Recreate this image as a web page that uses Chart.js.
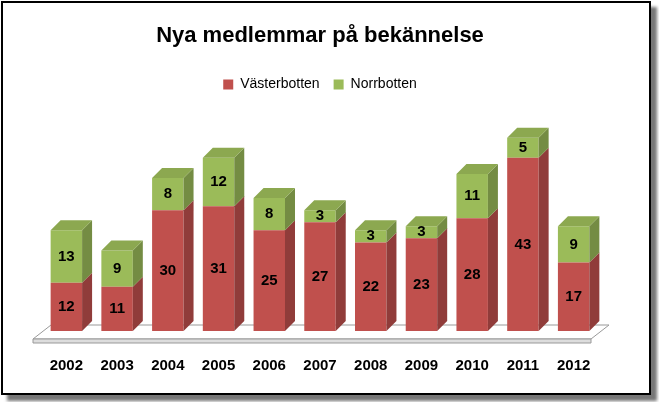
<!DOCTYPE html>
<html><head><meta charset="utf-8">
<script src="https://cdn.jsdelivr.net/npm/chart.js@4/dist/chart.umd.min.js"></script>
<style>
html,body{margin:0;padding:0;background:#fff;}
#wrap{position:absolute;left:1px;top:1px;width:646px;height:390px;border:2px solid #000;background:#fff;box-shadow:6px 6px 3px #777;}
canvas{display:block;}
</style></head><body>
<div id="wrap"><canvas id="c" width="646" height="390"></canvas></div>
<script>
const years=["2002","2003","2004","2005","2006","2007","2008","2009","2010","2011","2012"];
const vasterbotten=[12,11,30,31,25,27,22,23,28,43,17];
const norrbotten=[13,9,8,12,8,3,3,3,11,5,9];
const DX=10,DY=10;
function shade(hex,f){const n=parseInt(hex.slice(1),16);let r=(n>>16)&255,g=(n>>8)&255,b=n&255;return `rgb(${Math.round(r*f)},${Math.round(g*f)},${Math.round(b*f)})`;}
const depth={id:'depth',
beforeDatasetsDraw(ch){const ctx=ch.ctx,a=ch.chartArea,y0=ch.scales.y.getPixelForValue(0);
 ctx.save();ctx.fillStyle='#fff';ctx.strokeStyle='#999';ctx.lineWidth=1;
 ctx.beginPath();ctx.moveTo(a.left-8,y0+8);ctx.lineTo(a.right-8,y0+8);ctx.lineTo(a.right+DX,y0-DY+4);ctx.lineTo(a.left+DX,y0-DY+4);ctx.closePath();ctx.fill();ctx.stroke();
 ctx.beginPath();ctx.moveTo(a.left-8,y0+8);ctx.lineTo(a.right-8,y0+8);ctx.lineTo(a.right-8,y0+12);ctx.lineTo(a.left-8,y0+12);ctx.closePath();ctx.fillStyle='#ddd';ctx.fill();ctx.stroke();
 ctx.restore();},
afterDatasetsDraw(ch){const ctx=ch.ctx;ctx.save();
 ch.data.datasets.forEach((ds,di)=>{const m=ch.getDatasetMeta(di);const col=ds.backgroundColor;
  m.data.forEach((b,i)=>{const l=b.x-b.width/2,r=b.x+b.width/2,t=Math.min(b.y,b.base),bo=Math.max(b.y,b.base);
   ctx.fillStyle=shade(col,0.75);ctx.beginPath();ctx.moveTo(r,t);ctx.lineTo(r+DX,t-DY);ctx.lineTo(r+DX,bo-DY);ctx.lineTo(r,bo);ctx.closePath();ctx.fill();
   if(di===1){ctx.fillStyle=shade(col,0.9);ctx.beginPath();ctx.moveTo(l,t);ctx.lineTo(l+DX,t-DY);ctx.lineTo(r+DX,t-DY);ctx.lineTo(r,t);ctx.closePath();ctx.fill();}
   ctx.fillStyle='#000';ctx.font='bold 15px "Liberation Sans", Arial';ctx.textAlign='center';ctx.textBaseline='middle';
   ctx.fillText(ds.data[i],b.x,(t+bo)/2);
  });});
 ctx.restore();}};
new Chart(document.getElementById('c'),{type:'bar',
data:{labels:years,datasets:[
 {label:'Västerbotten',data:vasterbotten,backgroundColor:'#C0504D'},
 {label:'Norrbotten',data:norrbotten,backgroundColor:'#9BBB59'}]},
options:{responsive:false,animation:false,
 layout:{padding:{left:38,right:50,top:0,bottom:0}},
 datasets:{bar:{categoryPercentage:1,barPercentage:0.62}},
 plugins:{title:{display:true,text:'Nya medlemmar på bekännelse',color:'#000',font:{family:'"Liberation Sans", Arial',size:22,weight:'bold'},padding:{top:20,bottom:14}},
  legend:{labels:{boxWidth:10,boxHeight:10,color:'#000',font:{family:'"Liberation Sans", Arial',size:14},padding:14}},
  tooltip:{enabled:false}},
 scales:{x:{stacked:true,grid:{display:false},border:{display:false},ticks:{color:'#000',padding:18,font:{family:'"Liberation Sans", Arial',size:15,weight:'bold'}}},
  y:{stacked:true,min:0,max:57,display:false}}},
plugins:[depth]});
</script></body></html>
